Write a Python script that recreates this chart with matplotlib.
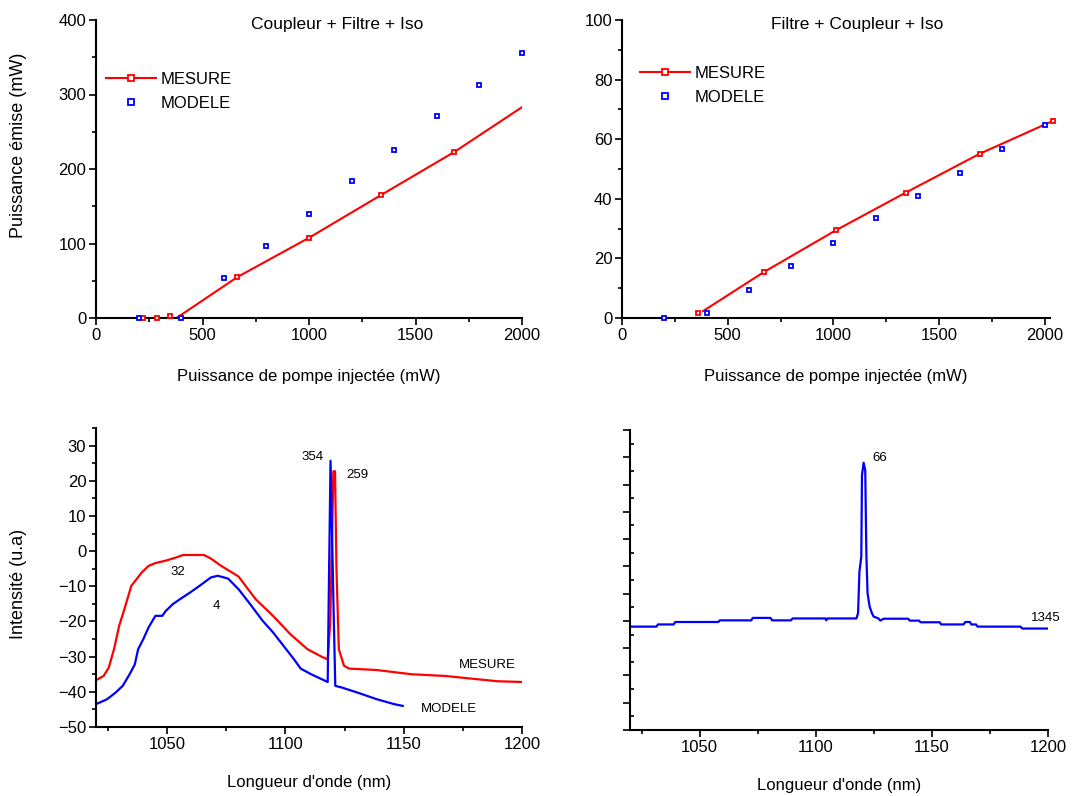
import matplotlib
matplotlib.use('Agg')
import matplotlib.pyplot as plt
from matplotlib.ticker import MultipleLocator, NullFormatter

plt.rcParams['font.family'] = ['Liberation Sans', 'DejaVu Sans']

RED = '#ff0000'
BLUE = '#0000ff'

# ---------------- Top-left: Coupleur + Filtre + Iso ----------------
tl_mes_x = [222, 287, 349, 664, 1002, 1338, 1683]
tl_mes_y = [0, 0, 3, 55, 108, 165, 223]
tl_fit_x = [200, 378, 664, 1002, 1338, 1683, 2000]
tl_fit_y = [0, 0, 55, 108, 165, 223, 283]
tl_mod_x = [200, 400, 600, 800, 1000, 1200, 1400, 1600, 1800, 2000]
tl_mod_y = [0, 0, 54, 97, 140, 184, 226, 271, 313, 356]

# ---------------- Top-right: Filtre + Coupleur + Iso ----------------
tr_mes_x = [358, 671, 1011, 1343, 1692, 2039]
tr_mes_y = [1.7, 15.4, 29.4, 42.1, 55.1, 66.1]
tr_fit_x = [383, 671, 1011, 1343, 1692, 2022]
tr_fit_y = [2.3, 15.4, 29.4, 42.1, 55.1, 65.6]
tr_mod_x = [200, 400, 600, 800, 1000, 1200, 1400, 1600, 1800, 2000]
tr_mod_y = [0, 1.7, 9.3, 17.4, 25.3, 33.4, 41.1, 48.8, 56.8, 64.8]

# ---------------- Bottom-left: spectra ----------------
bl_mes_x = [1020, 1023.2, 1025.4, 1027.6, 1029.8, 1032, 1034.9, 1037.1, 1039.3, 1042.2,
            1045.1, 1049.5, 1053.9, 1056.8, 1065.6, 1068.5, 1072.9, 1080.2, 1087.5,
            1094.8, 1102.1, 1109.4, 1115.3, 1117.9, 1119.0, 1120.3, 1121.0, 1121.6,
            1122.6, 1124.8, 1127, 1138.6, 1153.3, 1167.7, 1175, 1189.7, 1200]
bl_mes_y = [-36.7, -35.5, -33.1, -27.9, -21.2, -16.5, -9.9, -8.0, -6.1, -4.2,
            -3.4, -2.7, -1.8, -1.1, -1.1, -2.1, -4.2, -7.2, -13.7,
            -18.4, -23.6, -27.9, -30.0, -30.8, -20.0, 22.7, 22.7, -5.0,
            -27.9, -32.6, -33.4, -33.8, -35.0, -35.5, -36.0, -37.0, -37.2]
bl_mod_x = [1020, 1024.7, 1028.3, 1031.3, 1034.2, 1036.4, 1037.8, 1040, 1042.2, 1045.1,
            1048, 1049.5, 1052.4, 1055.4, 1059.7, 1064.1, 1068.5, 1071.4, 1075.8,
            1080.2, 1084.6, 1090.4, 1094.8, 1099.2, 1103.6, 1106.5, 1110.9, 1117.9,
            1118.4, 1119.1, 1120.5, 1121.1, 1124, 1131.3, 1138.6, 1146, 1149.6]
bl_mod_y = [-43.5, -42.1, -40.2, -38.3, -35.0, -32.2, -27.9, -25.0, -21.7, -18.4,
            -18.4, -17.0, -15.1, -13.7, -11.8, -9.7, -7.5, -7.0, -7.8,
            -10.8, -14.6, -19.8, -23.1, -26.9, -30.7, -33.4, -35.0, -37.2,
            -10.0, 25.7, -20.0, -38.3, -38.8, -40.4, -42.1, -43.5, -44.0]

# ---------------- Bottom-right: spectrum ----------------
br_x = [1020, 1031.4, 1032, 1038.8, 1039.5, 1058, 1058.7, 1072.2, 1072.9, 1080.5,
        1081.2, 1089.3, 1090, 1104.2, 1104.5, 1105, 1117.5, 1118.2, 1118.8, 1119.6,
        1119.9, 1120.6, 1121.3, 1121.8, 1122.3, 1123.2, 1124.2, 1124.9, 1127, 1127.8,
        1129.2, 1139.8, 1140.5, 1144.5, 1145.1, 1153.4, 1154, 1163.6, 1164.4, 1166.4,
        1167, 1169, 1169.7, 1188.2, 1188.9, 1200]
br_y = [37.9, 37.9, 38.7, 38.7, 39.6, 39.6, 40.2, 40.2, 41.1, 41.1,
        40.2, 40.2, 40.9, 40.9, 40.2, 40.9, 40.9, 42.8, 58.1, 63.6,
        93.5, 98.0, 95.3, 63.6, 50.1, 45.2, 42.8, 41.6, 40.9, 40.1,
        40.8, 40.8, 40.1, 40.1, 39.5, 39.5, 38.7, 38.7, 39.6, 39.6,
        38.7, 38.7, 37.9, 37.9, 37.2, 37.2]

W, H = 1072, 796
fig = plt.figure(figsize=(W / 100, H / 100), dpi=100)


def rect(l, r, t, b):
    return [l / W, (H - b) / H, (r - l) / W, (b - t) / H]


def style(ax, minor_in=False):
    for s in ('top', 'right'):
        ax.spines[s].set_visible(False)
    for s in ('left', 'bottom'):
        ax.spines[s].set_linewidth(1.5)
    ax.tick_params(which='major', direction='out', length=5, width=1.2,
                   labelsize=12, pad=2)
    ax.tick_params(which='minor', direction='out', length=3, width=1.2)
    if minor_in:
        ax.tick_params(axis='y', which='minor', direction='in', length=3)


FS = 12
YFS = 13
MS = 3.5

# Top-left
ax1 = fig.add_axes(rect(96, 522, 20, 318))
ax1.plot(tl_fit_x, tl_fit_y, color=RED, lw=1.5, zorder=2)
ax1.plot(tl_mes_x, tl_mes_y, ls='none', marker='s', ms=MS, mfc='white', mec=RED,
         mew=1.3, clip_on=False, zorder=3)
ax1.plot(tl_mod_x, tl_mod_y, ls='none', marker='s', ms=MS, mfc='white', mec=BLUE,
         mew=1.3, clip_on=False, zorder=3)
ax1.set_xlim(0, 2000)
ax1.set_ylim(0, 400)
ax1.xaxis.set_major_locator(MultipleLocator(500))
ax1.xaxis.set_minor_locator(MultipleLocator(250))
ax1.yaxis.set_major_locator(MultipleLocator(100))
ax1.yaxis.set_minor_locator(MultipleLocator(50))
style(ax1)
ax1.set_xlabel('Puissance de pompe injectée (mW)', fontsize=FS, labelpad=19)
ax1.set_ylabel('Puissance émise (mW)', fontsize=YFS)
ax1.yaxis.set_label_coords(-0.162, 0.578)
ax1.text(0.566, 0.985, 'Coupleur + Filtre + Iso', transform=ax1.transAxes,
         fontsize=12.5, ha='center', va='center')
h1, = ax1.plot([], [], color=RED, lw=1.5, marker='s', ms=5, mfc='white', mec=RED, mew=1.3)
h2, = ax1.plot([], [], ls='none', marker='s', ms=5, mfc='white', mec=BLUE, mew=1.3)
ax1.legend([h1, h2], ['MESURE', 'MODELE'], loc='upper left',
           bbox_to_anchor=(0.0, 0.86), frameon=False, fontsize=FS,
           handlelength=3.0, handletextpad=0.3, labelspacing=0.55, borderaxespad=0.2)

# Top-right
ax2 = fig.add_axes(rect(622, 1050, 20, 318))
ax2.plot(tr_fit_x, tr_fit_y, color=RED, lw=1.5, zorder=2)
ax2.plot(tr_mes_x, tr_mes_y, ls='none', marker='s', ms=MS, mfc='white', mec=RED,
         mew=1.3, clip_on=False, zorder=3)
ax2.plot(tr_mod_x, tr_mod_y, ls='none', marker='s', ms=MS, mfc='white', mec=BLUE,
         mew=1.3, clip_on=False, zorder=3)
ax2.set_xlim(0, 2025)
ax2.set_ylim(0, 100)
ax2.xaxis.set_major_locator(MultipleLocator(500))
ax2.xaxis.set_minor_locator(MultipleLocator(250))
ax2.yaxis.set_major_locator(MultipleLocator(20))
ax2.yaxis.set_minor_locator(MultipleLocator(10))
style(ax2)
ax2.set_xlabel('Puissance de pompe injectée (mW)', fontsize=FS, labelpad=19)
ax2.text(0.549, 0.985, 'Filtre + Coupleur + Iso', transform=ax2.transAxes,
         fontsize=12.5, ha='center', va='center')
h3, = ax2.plot([], [], color=RED, lw=1.5, marker='s', ms=5, mfc='white', mec=RED, mew=1.3)
h4, = ax2.plot([], [], ls='none', marker='s', ms=5, mfc='white', mec=BLUE, mew=1.3)
ax2.legend([h3, h4], ['MESURE', 'MODELE'], loc='upper left',
           bbox_to_anchor=(0.018, 0.88), frameon=False, fontsize=FS,
           handlelength=3.0, handletextpad=0.3, labelspacing=0.55, borderaxespad=0.2)

# Bottom-left
ax3 = fig.add_axes(rect(96, 522, 428, 727))
ax3.plot(bl_mes_x, bl_mes_y, color=RED, lw=1.6)
ax3.plot(bl_mod_x, bl_mod_y, color=BLUE, lw=1.6)
ax3.set_xlim(1020, 1200)
ax3.set_ylim(-50, 35)
ax3.xaxis.set_major_locator(MultipleLocator(50))
ax3.xaxis.set_minor_locator(MultipleLocator(25))
ax3.yaxis.set_major_locator(MultipleLocator(10))
ax3.yaxis.set_minor_locator(MultipleLocator(5))
style(ax3)
ax3.set_xlabel("Longueur d'onde (nm)", fontsize=FS, labelpad=17)
ax3.set_ylabel('Intensité (u.a)', fontsize=YFS)
ax3.yaxis.set_label_coords(-0.162, 0.48)
for txt, x, y in [('354', 1111.6, 26.7), ('259', 1130.3, 21.5), ('32', 1054.6, -5.9),
                  ('4', 1070.8, -15.6), ('MESURE', 1185.4, -32.4), ('MODELE', 1169.3, -45.0)]:
    ax3.text(x, y, txt, fontsize=9.5, ha='center', va='center')

# Bottom-right
ax4 = fig.add_axes(rect(630, 1048, 430, 730))
ax4.plot(br_x, br_y, color=BLUE, lw=1.6)
ax4.set_xlim(1020, 1200)
ax4.set_ylim(0, 110)
ax4.xaxis.set_major_locator(MultipleLocator(50))
ax4.xaxis.set_minor_locator(MultipleLocator(25))
ax4.yaxis.set_major_locator(MultipleLocator(10))
ax4.yaxis.set_minor_locator(MultipleLocator(5))
style(ax4, minor_in=True)
ax4.yaxis.set_major_formatter(NullFormatter())
ax4.set_xlabel("Longueur d'onde (nm)", fontsize=FS, labelpad=17)
for txt, x, y in [('66', 1127.7, 99.6), ('1345', 1198.9, 40.9)]:
    ax4.text(x, y, txt, fontsize=9.5, ha='center', va='center')

fig.savefig('out.png', dpi=100)
